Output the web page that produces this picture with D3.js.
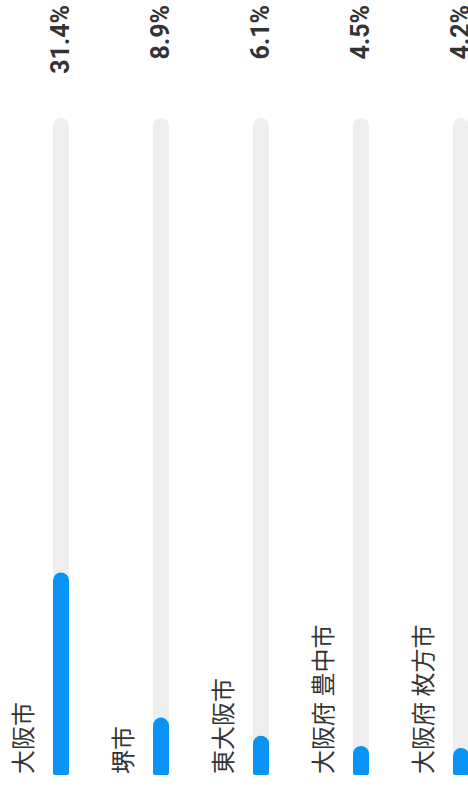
<!DOCTYPE html>
<html>
<head>
<meta charset="utf-8">
<script src="https://cdn.jsdelivr.net/npm/d3@7"></script>
<style>
  body { margin: 0; background: #fff; }
  svg { display: block; }
  .cat { font-family: "Noto Sans CJK JP", "Noto Sans", sans-serif; font-size: 24px; fill: #333; }
  .val { font-family: Roboto, "Noto Sans", sans-serif; font-size: 25px; font-weight: bold; fill: #333; }
</style>
</head>
<body>
<svg id="chart" width="468" height="790"></svg>
<script>
(function(){
    var categories = ["大阪市", "堺市", "東大阪市", "大阪府 豊中市", "大阪府 枚方市"],
        shares = [31.4, 8.9, 6.1, 4.5, 4.2],
        valueLabels = ["31.4%", "8.9%", "6.1%", "4.5%", "4.2%"];

    var width = 468,
        height = 790,
        barThick = 16,
        trackExtra = 12;

    var svg = d3.select("#chart");

    // chart is laid out horizontally then turned a quarter
    var g = svg.append("g")
        .attr("transform", "translate(0," + height + ") rotate(-90)");

    var row = d3.scaleBand()
        .domain(categories)
        .range([0, 500]);

    var x = d3.scaleLinear()
        .domain([0, 100])
        .range([15, 660]);

    function barPath(x0, x1, y0, h, rl, rr){
        var y1 = y0 + h;
        return "M" + (x0 + rl) + "," + y0 +
            "L" + (x1 - rr) + "," + y0 +
            "A" + rr + "," + rr + " 0 0 1 " + x1 + "," + (y0 + rr) +
            "L" + x1 + "," + (y1 - rr) +
            "A" + rr + "," + rr + " 0 0 1 " + (x1 - rr) + "," + y1 +
            "L" + (x0 + rl) + "," + y1 +
            "A" + rl + "," + rl + " 0 0 1 " + x0 + "," + (y1 - rl) +
            "L" + x0 + "," + (y0 + rl) +
            "A" + rl + "," + rl + " 0 0 1 " + (x0 + rl) + "," + y0 + "Z";
    }

    var rows = g.selectAll("g.row")
        .data(categories)
        .enter()
        .append("g")
        .attr("class", "row")
        .attr("transform", function(d){ return "translate(0," + row(d) + ")"; });

    rows.append("path")
        .attr("fill", "#eeeeee")
        .attr("d", function(){
            return barPath(x(0), x(100) + trackExtra, 53, barThick, 2, barThick / 2);
        });

    rows.append("path")
        .attr("fill", "#0993f5")
        .attr("d", function(d, i){
            return barPath(x(0), x(shares[i]), 53, barThick, 2, barThick / 2);
        });

    rows.append("text")
        .attr("class", "cat")
        .attr("x", 16)
        .attr("y", 32)
        .text(function(d){ return d; });

    rows.append("text")
        .attr("class", "val")
        .attr("x", height - 5)
        .attr("y", 69)
        .attr("text-anchor", "end")
        .text(function(d, i){ return valueLabels[i]; });
})();
</script>
</body>
</html>
